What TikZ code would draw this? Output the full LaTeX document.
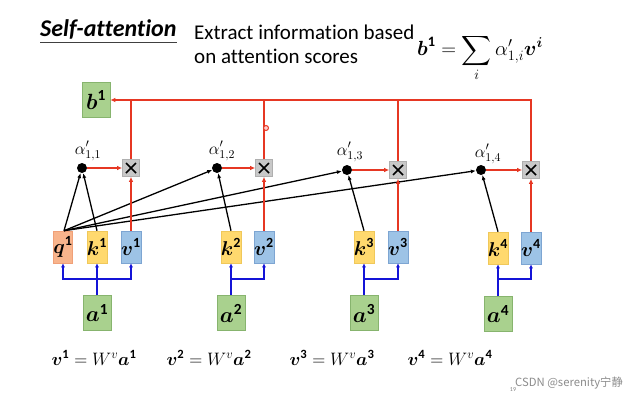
\RequirePackage{fix-cm}
\documentclass[tikz,border=0pt]{standalone}
\usepackage{amsmath}
\usepackage{fontspec}
\setmainfont{Carlito}[Ligatures=NoCommon]
\newfontfamily\cjk{Noto Sans CJK SC}
\usetikzlibrary{arrows.meta}
\definecolor{redc}{RGB}{230,55,35}
\definecolor{bluec}{RGB}{20,20,215}
\definecolor{qfill}{RGB}{248,180,140}
\definecolor{qdraw}{RGB}{240,160,120}
\definecolor{kfill}{RGB}{255,217,110}
\definecolor{kdraw}{RGB}{240,200,90}
\definecolor{vfill}{RGB}{157,195,230}
\definecolor{vdraw}{RGB}{125,165,210}
\definecolor{gfill}{RGB}{169,209,142}
\definecolor{gdraw}{RGB}{135,180,110}
\definecolor{mfill}{RGB}{200,200,200}
\definecolor{mdraw}{RGB}{175,175,175}
\tikzset{
  vec/.style={draw, line width=0.6pt, minimum width=18pt, minimum height=32pt, inner sep=0pt, font=\fontsize{20}{20}\selectfont},
  qbox/.style={vec, fill=qfill, draw=qdraw},
  kbox/.style={vec, fill=kfill, draw=kdraw},
  vbox/.style={vec, fill=vfill, draw=vdraw},
  gbox/.style={draw=gdraw, fill=gfill, line width=0.6pt, minimum width=28pt, minimum height=35pt, inner sep=0pt, font=\fontsize{22}{22}\selectfont},
  mul/.style={draw=mdraw, fill=mfill, line width=0.6pt, minimum size=17pt, inner sep=0pt,
    path picture={\draw[line width=1.6pt, black]
      ([xshift=-5pt,yshift=-5pt]path picture bounding box.center) -- ([xshift=5pt,yshift=5pt]path picture bounding box.center)
      ([xshift=-5pt,yshift=5pt]path picture bounding box.center) -- ([xshift=5pt,yshift=-5pt]path picture bounding box.center);}},
  dotn/.style={circle, fill=black, minimum size=10pt, inner sep=0pt},
  alab/.style={inner sep=0pt, font=\fontsize{17}{17}\selectfont},
  redl/.style={draw=redc, line width=1.2pt},
  reda/.style={redl, -{Latex[length=5pt,width=4.5pt]}},
  blkl/.style={draw=black, line width=1.3pt, -{Latex[length=5pt,width=4pt]}},
  blul/.style={draw=bluec, line width=1.5pt},
  blua/.style={blul, -{Latex[length=4pt,width=4pt]}},
  eq/.style={inner sep=0pt, font=\fontsize{18}{18}\selectfont},
}
\begin{document}
\begin{tikzpicture}[x=1pt,y=-1pt]
\useasboundingbox[fill=white] (0,0) rectangle (628,394);
% header
\node[anchor=base west, inner sep=0pt, font=\fontsize{24}{24}\selectfont\bfseries\itshape] (title) at (40,36) {Self-attention};
\draw[line width=1pt, black!75] (40,42) -- (177,42);
\node[anchor=base west, inner sep=0pt, font=\fontsize{21}{21}\selectfont, align=left] (sub1) at (194,39) {Extract information based};
\node[anchor=base west, inner sep=0pt, font=\fontsize{21}{21}\selectfont, align=left] (sub2) at (194,63) {on attention scores};
\node[anchor=west, inner sep=0pt, font=\fontsize{20.5}{20.5}\selectfont] (form) at (417,58) {$\displaystyle \boldsymbol{b}^{\mathbf{1}} = \sum_{i} \alpha'_{1,i}\boldsymbol{v}^{\boldsymbol{i}}$};
% b1
\node[gbox] (b1) at (96,100) {$\boldsymbol{b}^{\mathbf{1}}$};
% dots and multipliers
\node[dotn] (d1) at (82,168) {};
\node[dotn] (d2) at (217,168) {};
\node[dotn] (d3) at (347,170) {};
\node[dotn] (d4) at (481,170) {};
\node[alab] (l1) at (88,151) {$\alpha'_{1,1}$};
\node[alab] (l2) at (222,151) {$\alpha'_{1,2}$};
\node[alab] (l3) at (350,152) {$\alpha'_{1,3}$};
\node[alab] (l4) at (488,154) {$\alpha'_{1,4}$};
\node[mul] (m1) at (131,168) {};
\node[mul] (m2) at (264,168) {};
\node[mul] (m3) at (398,170) {};
\node[mul] (m4) at (531,170) {};
% q k v
\node[qbox] (q1) at (63,247) {$\boldsymbol{q}^{\mathbf{1}}$};
\node[kbox] (k1) at (97,247) {$\boldsymbol{k}^{\mathbf{1}}$};
\node[vbox] (v1) at (131,247) {$\boldsymbol{v}^{\mathbf{1}}$};
\node[kbox] (k2) at (231,247) {$\boldsymbol{k}^{\mathbf{2}}$};
\node[vbox] (v2) at (264,247) {$\boldsymbol{v}^{\mathbf{2}}$};
\node[kbox] (k3) at (364,247) {$\boldsymbol{k}^{\mathbf{3}}$};
\node[vbox] (v3) at (398,247) {$\boldsymbol{v}^{\mathbf{3}}$};
\node[kbox] (k4) at (498,248) {$\boldsymbol{k}^{\mathbf{4}}$};
\node[vbox] (v4) at (531,248) {$\boldsymbol{v}^{\mathbf{4}}$};
% a
\node[gbox] (a1) at (97,313) {$\boldsymbol{a}^{\mathbf{1}}$};
\node[gbox] (a2) at (231,313) {$\boldsymbol{a}^{\mathbf{2}}$};
\node[gbox] (a3) at (364,313) {$\boldsymbol{a}^{\mathbf{3}}$};
\node[gbox] (a4) at (498,314) {$\boldsymbol{a}^{\mathbf{4}}$};
% equations
\node[eq] (e1) at (94,358) {$\boldsymbol{v}^{\mathbf{1}} = W^{v}\boldsymbol{a}^{\mathbf{1}}$};
\node[eq] (e2) at (209,358) {$\boldsymbol{v}^{\mathbf{2}} = W^{v}\boldsymbol{a}^{\mathbf{2}}$};
\node[eq] (e3) at (332,358) {$\boldsymbol{v}^{\mathbf{3}} = W^{v}\boldsymbol{a}^{\mathbf{3}}$};
\node[eq] (e4) at (450,358) {$\boldsymbol{v}^{\mathbf{4}} = W^{v}\boldsymbol{a}^{\mathbf{4}}$};
% blue connectors
\coordinate (j1) at (97,279);
\coordinate (j2) at (231,279);
\coordinate (j3) at (364,279);
\coordinate (j4) at (498,279);
\draw[blua] (a1.north) -- (k1.south);
\draw[blua] (j1) -| (q1.south);
\draw[blua] (j1) -| (v1.south);
\draw[blua] (a2.north) -- (k2.south);
\draw[blua] (j2) -| (v2.south);
\draw[blua] (a3.north) -- (k3.south);
\draw[blua] (j3) -| (v3.south);
\draw[blua] (a4.north) -- (k4.south);
\draw[blua] (j4) -| (v4.south);
% black connectors
\coordinate (qs) at ([xshift=1pt]q1.north);
\draw[blkl] (qs) -- (d1);
\draw[blkl] (k1.north) -- (d1);
\draw[blkl] (qs) -- (d2);
\draw[blkl] (qs) -- (d3);
\draw[blkl] (qs) -- (d4);
\draw[blkl] (k2.north) -- (d2);
\draw[blkl] (k3.north) -- (d3);
\draw[blkl] (k4.north) -- (d4);
% red connectors
\draw[reda] (d1) -- (m1);
\draw[reda] (d2) -- (m2);
\draw[reda] (d3) -- (m3);
\draw[reda] (d4) -- (m4);
\draw[reda] (v1.north) -- (m1.south);
\draw[reda] (v2.north) -- (m2.south);
\draw[reda] (v3.north) -- (m3.south);
\draw[reda] (v4.north) -- (m4.south);
\draw[reda] (m4.north) |- (b1.east);
\draw[redl] (m1.north) -- (m1.north |- b1.east);
\draw[redl] (m2.north) -- (m2.north |- b1.east);
\draw[redl] (m3.north) -- (m3.north |- b1.east);
% pointer mark
\node[circle, draw=redc, fill=red!20, line width=1pt, minimum size=5pt, inner sep=0pt] (ptr) at (266,128) {};
% watermark
\node[anchor=east, inner sep=0pt, text=black!45, font=\fontsize{11.3}{11.3}\selectfont\cjk] (wm) at (623,383) {CSDN @serenity宁静};
\node[inner sep=0pt, text=black!50, font=\fontsize{6}{6}\selectfont] (pg) at (513,390) {19};
\end{tikzpicture}
\end{document}
